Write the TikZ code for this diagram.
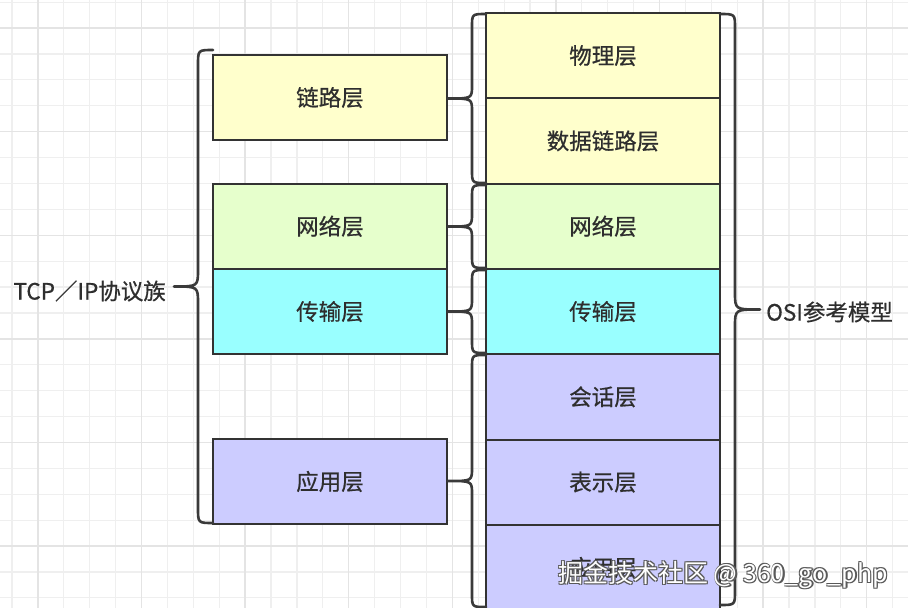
\documentclass[tikz,border=0pt]{standalone}
\usepackage{fontspec}
\newfontfamily\cjk[FakeBold=0.6]{Noto Sans CJK SC}
\newfontfamily\cjkwm{Noto Sans CJK SC}
\definecolor{gridminor}{HTML}{EFEFEF}
\definecolor{gridmajor}{HTML}{E4E4E4}
\definecolor{boxline}{HTML}{333333}
\definecolor{bracecol}{HTML}{3A3A3A}
\definecolor{yel}{HTML}{FFFFCC}
\definecolor{grn}{HTML}{E6FFCC}
\definecolor{cyn}{HTML}{99FFFF}
\definecolor{pur}{HTML}{CCCCFF}
\definecolor{txt}{HTML}{2E2E2E}
\newcommand\bracL[7]{% xe, xv, xt, y1, y2, r end, r mid
  \draw[bracestyle] (#1,#4) .. controls (#2,#4) .. (#2,{#4+#6})
    -- (#2,{(#4+#5)/2-#7}) .. controls (#2,{(#4+#5)/2}) .. (#3,{(#4+#5)/2})
    .. controls (#2,{(#4+#5)/2}) .. (#2,{(#4+#5)/2+#7})
    -- (#2,{#5-#6}) .. controls (#2,#5) .. (#1,#5);}
\begin{document}
\begin{tikzpicture}[x=1pt,y=-1pt,
  layerbox/.style={draw=boxline, line width=2pt, minimum width=234pt, minimum height=85.3pt,
    inner sep=0pt, font=\cjk\fontsize{22.5}{26}\selectfont, text=txt},
  bracestyle/.style={draw=bracecol, line width=2.6pt, line cap=round, line join=round},
  label/.style={font=\cjk\fontsize{22.5}{26}\selectfont, text=txt, inner sep=0pt}]
\useasboundingbox (0,0) rectangle (908,608);
\begin{scope}
\clip (0,0) rectangle (908,608);
\fill[white] (0,0) rectangle (908,608);
\foreach \i in {0,...,35} {\draw[gridminor, line width=1.2pt] ({12+25.9*\i},0) -- ({12+25.9*\i},608);}
\foreach \j in {0,...,24} {\draw[gridminor, line width=1.2pt] (0,{2.1+25.9*\j}) -- (908,{2.1+25.9*\j});}
\foreach \i in {1,5,...,33} {\draw[gridmajor, line width=1.4pt] ({12+25.9*\i},0) -- ({12+25.9*\i},608);}
\foreach \j in {1,5,...,21} {\draw[gridmajor, line width=1.4pt] (0,{2.1+25.9*\j}) -- (908,{2.1+25.9*\j});}

% right column (OSI)
\node[layerbox, fill=yel] (osi1) at (603,55.65) {物理层};
\node[layerbox, fill=yel] (osi2) at (603,140.95) {数据链路层};
\node[layerbox, fill=grn] (osi3) at (603,226.25) {网络层};
\node[layerbox, fill=cyn] (osi4) at (603,311.55) {传输层};
\node[layerbox, fill=pur] (osi5) at (603,396.85) {会话层};
\node[layerbox, fill=pur] (osi6) at (603,482.15) {表示层};
\node[layerbox, fill=pur] (osi7) at (603,567.45) {应用层};

% left column (TCP/IP)
\node[layerbox, fill=yel] (tcp1) at (330,97.5) {链路层};
\node[layerbox, fill=grn] (tcp2) at (330,226.25) {网络层};
\node[layerbox, fill=cyn] (tcp3) at (330,311.55) {传输层};
\node[layerbox, fill=pur] (tcp4) at (330,481.5) {应用层};

% braces
\bracL{213}{198}{174}{50}{523}{15}{17}
\bracL{486}{472}{448}{14}{183}{13}{13}
\bracL{486}{472}{448}{185}{268}{13}{13}
\bracL{486}{472}{448}{270}{353}{13}{13}
\bracL{486}{472}{448}{355}{607}{13}{13}
\bracL{720}{735}{760}{14}{605}{14}{17}

\node[label, anchor=east] (tcplabel) at (166,291) {TCP／IP协议族};
\node[label, anchor=west] (osilabel) at (766,312) {OSI参考模型};

% watermark
\foreach \dx/\dy in {1.2/1.2,-0.8/0.8,0.8/-0.8,-0.8/-0.8,1.5/0}
  {\node[font=\cjkwm\fontsize{25}{29}\selectfont, text=black!65, inner sep=0pt, anchor=east] at ({888+\dx},{575+\dy}) {掘金技术社区 @ 360\_go\_php};}
\node[font=\cjkwm\fontsize{25}{29}\selectfont, text=white, inner sep=0pt, anchor=east] (wm) at (888,575) {掘金技术社区 @ 360\_go\_php};
\end{scope}
\end{tikzpicture}
\end{document}
